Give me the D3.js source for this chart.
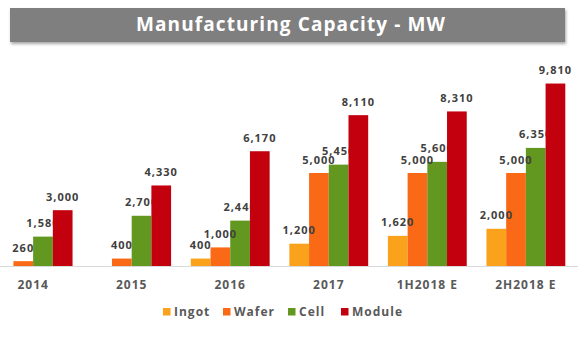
<!DOCTYPE html>
<html>
<head>
<meta charset="utf-8">
<script src="https://cdn.jsdelivr.net/npm/d3@7"></script>
<style>
  body { margin: 0; background: #fff; }
  svg { display: block; font-family: "Open Sans", sans-serif; }
</style>
</head>
<body>
<svg id="chart"></svg>
<script>
// периоды и серии мощностей, МВт
const periods = ["2014", "2015", "2016", "2017", "1H2018 E", "2H2018 E"];
const seriesNames = ["Ingot", "Wafer", "Cell", "Module"];
const ingot = [null, null, 400, 1200, 1620, 2000];
const wafer = [260, 400, 1000, 5000, 5000, 5000];
const cell = [1580, 2700, 2440, 5450, 5600, 6350];
const module_ = [3000, 4330, 6170, 8110, 8310, 9810];
const colors = ["#FAA21B", "#FA6A16", "#62981F", "#C2000E"];

document.addEventListener("DOMContentLoaded", function() {
    const width = 580;
    const height = 339;
    const svg = d3.select("#chart")
        .attr("width", width)
        .attr("height", height);

    const values = [ingot, wafer, cell, module_];

    // тень под заголовком
    const defs = svg.append("defs");
    defs.append("filter")
        .attr("id", "shadow")
        .attr("x", "-5%").attr("y", "-30%")
        .attr("width", "110%").attr("height", "170%")
        .append("feDropShadow")
        .attr("dx", 1).attr("dy", 2)
        .attr("stdDeviation", 1.5)
        .attr("flood-color", "#000")
        .attr("flood-opacity", 0.35);

    svg.append("rect")
        .attr("x", 10).attr("y", 8)
        .attr("width", 555).attr("height", 34)
        .attr("fill", "#7f7f7f")
        .attr("filter", "url(#shadow)");

    svg.append("text")
        .attr("x", 291).attr("y", 31)
        .attr("text-anchor", "middle")
        .attr("fill", "#fff")
        .attr("font-size", 19)
        .attr("font-weight", 700)
        .attr("letter-spacing", 1.1)
        .text("Manufacturing Capacity - MW");

    // шкалы
    const x0 = d3.scaleBand()
        .domain(periods)
        .range([-26, 585])
        .paddingInner(0.2)
        .paddingOuter(0.2);

    const x1 = d3.scaleBand()
        .domain(seriesNames)
        .range([0, x0.bandwidth()]);

    const y = d3.scaleLinear()
        .domain([0, 10000])
        .range([266, 80]);

    // ось X
    svg.append("line")
        .attr("x1", 0).attr("x2", 578)
        .attr("y1", y(0) + 0.5).attr("y2", y(0) + 0.5)
        .attr("stroke", "#d9d9d9");

    const xAxis = svg.append("g")
        .attr("transform", `translate(0, ${y(0)})`)
        .call(d3.axisBottom(x0).tickSize(0).tickPadding(14));
    xAxis.select(".domain").remove();
    xAxis.selectAll("text")
        .attr("font-family", "Open Sans, sans-serif")
        .attr("font-size", 12)
        .attr("font-weight", 700)
        .attr("letter-spacing", 1)
        .attr("fill", "#595959");

    const fmt = d3.format(",");
    const rows = s => periods
        .map((p, i) => ({ period: p, value: values[s][i] }))
        .filter(d => d.value != null);

    const drawBars = s => {
        svg.append("g")
            .selectAll("rect")
            .data(rows(s))
            .join("rect")
            .attr("x", d => x0(d.period) + x1(seriesNames[s]))
            .attr("y", d => y(d.value))
            .attr("width", x1.bandwidth())
            .attr("height", d => y(0) - y(d.value))
            .attr("fill", colors[s]);
    };

    const drawLabels = s => {
        svg.append("g")
            .selectAll("text")
            .data(rows(s))
            .join("text")
            .attr("x", d => x0(d.period) + x1(seriesNames[s]) + x1.bandwidth() / 2)
            .attr("y", d => y(d.value) - 9.5)
            .attr("text-anchor", "middle")
            .attr("font-size", 11)
            .attr("font-weight", 700)
            .attr("letter-spacing", 1)
            .attr("fill", "#404040")
            .text(d => fmt(d.value));
    };

    // подписи Cell уходят под столбцы Module, остальные поверх
    drawBars(0);
    drawBars(1);
    drawBars(2);
    drawLabels(2);
    drawBars(3);
    drawLabels(0);
    drawLabels(1);
    drawLabels(3);

    // легенда
    const legendX = [163, 223, 288, 341];
    const legend = svg.append("g")
        .selectAll("g")
        .data(seriesNames)
        .join("g")
        .attr("transform", (d, i) => `translate(${legendX[i]}, 308)`);

    legend.append("rect")
        .attr("width", 7.5).attr("height", 7.5)
        .attr("fill", (d, i) => colors[i]);

    legend.append("text")
        .attr("x", 11).attr("y", 7.5)
        .attr("font-size", 12)
        .attr("font-weight", 700)
        .attr("letter-spacing", 1)
        .attr("fill", "#595959")
        .text(d => d);
});
</script>
</body>
</html>
